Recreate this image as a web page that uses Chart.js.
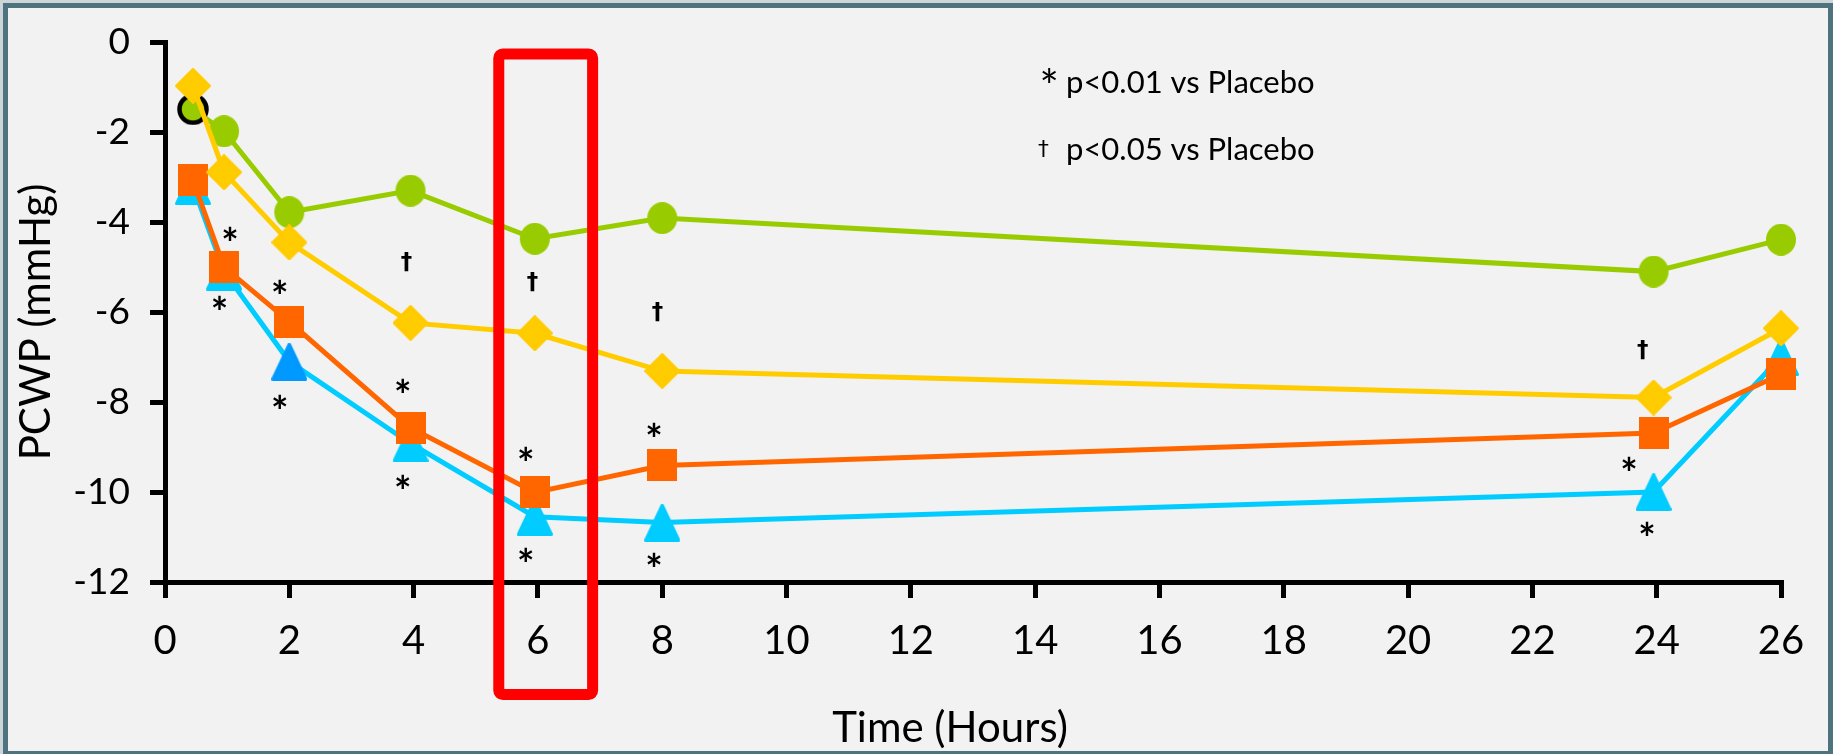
<!DOCTYPE html>
<html>
<head>
<meta charset="utf-8">
<script src="https://cdn.jsdelivr.net/npm/chart.js@4.4.1/dist/chart.umd.min.js"></script>
<style>
  html, body { margin: 0; padding: 0; width: 1833px; height: 754px; overflow: hidden; background: #CDD5D8; }
  #frame { position: absolute; left: 3px; top: 3px; width: 1820px; height: 743px; border: 5px solid #4F737E; background: #F2F2F2; }
  #chart { position: absolute; left: 0; top: 0; }
</style>
</head>
<body>
<div id="frame"></div>
<canvas id="chart" width="1833" height="754"></canvas>
<script>
// Sampling times (hours after start of infusion)
const hours = [0.45, 0.95, 2, 3.95, 5.95, 8, 23.95, 26];

// Change in PCWP (mmHg) for each treatment arm
const pcwpGreen  = [-1.49, -1.98, -3.78, -3.30, -4.37, -3.91, -5.10, -4.39];
const pcwpYellow = [-0.97, -2.89, -4.45, -6.24, -6.47, -7.31, -7.90, -6.36];
const pcwpOrange = [-3.07, -5.00, -6.21, -8.57, -10.01, -9.41, -8.69, -7.38];
const pcwpCyan   = [-3.20, -5.10, -7.10, -8.92, -10.55, -10.68, -10.00, -7.00];

// Axis ticks
const hourTicks = [0, 2, 4, 6, 8, 10, 12, 14, 16, 18, 20, 22, 24, 26];
const pcwpTicks = [0, -2, -4, -6, -8, -10, -12];

// Significance marks, placed in data units
const starHours   = [1.05, 0.88, 1.85, 1.85, 3.83, 3.83, 5.81, 5.81, 7.87, 7.87, 23.56, 23.85];
const starPcwp    = [-4.25, -5.79, -5.44, -7.98, -7.63, -9.76, -9.14, -11.38, -8.60, -11.51, -9.36, -10.81];
const daggerHours = [3.88, 5.91, 7.92, 23.77];
const daggerPcwp  = [-4.89, -5.33, -5.99, -6.84];

// Footnote key
const noteSymbols = ['*', '\u2020'];
const noteTexts   = ['p<0.01 vs Placebo', 'p<0.05 vs Placebo'];

// Highlighted window around the 6-hour reading
const windowHours = [5.37, 6.88];
const windowPcwp  = [-0.26, -14.5];

const FONT = 'Lato, "Open Sans", "Liberation Sans", sans-serif';
const SYMBOL_FONT = '"DejaVu Sans", "Liberation Sans", sans-serif';

// ---- marker images ----
function makeMarker(w, h, paint) {
  const c = document.createElement('canvas');
  c.width = w; c.height = h;
  paint(c.getContext('2d'), w, h);
  return c;
}
const circle = (fill, ring) => makeMarker(32, 32, (g, w, h) => {
  g.beginPath();
  if (ring) {
    g.ellipse(w / 2, h / 2, w / 2 - 2.5, h / 2 - 2.5, 0, 0, Math.PI * 2);
    g.fillStyle = fill; g.fill();
    g.lineWidth = 4.5; g.strokeStyle = '#000'; g.stroke();
  } else {
    g.ellipse(w / 2, h / 2, 15, 16, 0, 0, Math.PI * 2);
    g.fillStyle = fill; g.fill();
  }
});
const square = fill => makeMarker(30, 32, (g, w, h) => { g.fillStyle = fill; g.fillRect(0, 0, w, h); });
const diamond = fill => makeMarker(36, 36, (g, w, h) => {
  g.beginPath();
  g.moveTo(w / 2, 1); g.lineTo(w - 1, h / 2); g.lineTo(w / 2, h - 1); g.lineTo(1, h / 2); g.closePath();
  g.fillStyle = fill; g.strokeStyle = fill; g.lineJoin = 'round'; g.lineWidth = 2; g.fill(); g.stroke();
});
const triangle = fill => makeMarker(36, 38, (g, w, h) => {
  g.beginPath();
  g.moveTo(w / 2, 1.5); g.lineTo(w - 1.5, h - 1.5); g.lineTo(1.5, h - 1.5); g.closePath();
  g.fillStyle = fill; g.strokeStyle = fill; g.lineJoin = 'round'; g.lineWidth = 3; g.fill(); g.stroke();
});

const GREEN = '#99CC00', YELLOW = '#FFCC00', ORANGE = '#FF6600', CYAN = '#00CCFF', BLUE = '#0099FF';

const greenMarks  = hours.map((_, i) => circle(GREEN, i === 0));
const yellowMarks = diamond(YELLOW);
const orangeMarks = square(ORANGE);
const cyanMarks   = hours.map((_, i) => triangle(i === 2 ? BLUE : CYAN));

const toPoints = vals => hours.map((h, i) => ({ x: h, y: vals[i] }));

// ---- annotation layer: significance marks, key, axis captions, highlight box ----
function glyphAt(ctx, txt, cx, cy) {
  const m = ctx.measureText(txt);
  const x = cx - (m.actualBoundingBoxRight - m.actualBoundingBoxLeft) / 2;
  const y = cy + (m.actualBoundingBoxAscent - m.actualBoundingBoxDescent) / 2;
  ctx.fillText(txt, x, y);
}
function sizedFont(ctx, txt, targetHeight, weight, family) {
  ctx.font = weight + ' 100px ' + family;
  const m = ctx.measureText(txt);
  const hgt = m.actualBoundingBoxAscent + m.actualBoundingBoxDescent;
  return weight + ' ' + (100 * targetHeight / hgt).toFixed(1) + 'px ' + family;
}

const annotations = {
  id: 'annotations',
  afterDatasetsDraw(chart) {
    const { ctx, scales: { x, y } } = chart;
    ctx.save();
    ctx.fillStyle = '#000';
    ctx.textAlign = 'left';
    ctx.textBaseline = 'alphabetic';

    ctx.font = sizedFont(ctx, '*', 14, 'bold', FONT);
    starHours.forEach((h, i) => glyphAt(ctx, '*', x.getPixelForValue(h), y.getPixelForValue(starPcwp[i])));
    ctx.font = sizedFont(ctx, '\u2020', 19, 'bold', SYMBOL_FONT);
    daggerHours.forEach((h, i) => glyphAt(ctx, '\u2020', x.getPixelForValue(h), y.getPixelForValue(daggerPcwp[i])));

    // key
    const keyLeft = 1066, keyBase = [93, 160], symCenter = [[1049, 75], [1043.5, 148.5]];
    ctx.font = sizedFont(ctx, '*', 15, 'normal', FONT);
    glyphAt(ctx, noteSymbols[0], symCenter[0][0], symCenter[0][1]);
    ctx.font = sizedFont(ctx, '\u2020', 18, 'normal', SYMBOL_FONT);
    glyphAt(ctx, noteSymbols[1], symCenter[1][0], symCenter[1][1]);
    ctx.font = '31px ' + FONT;
    noteTexts.forEach((t, i) => ctx.fillText(t, keyLeft, keyBase[i]));

    // axis captions
    ctx.font = '42px ' + FONT;
    ctx.textAlign = 'center';
    ctx.fillText('Time (Hours)', 950, 742);
    ctx.translate(50, 322);
    ctx.rotate(-Math.PI / 2);
    ctx.fillText('PCWP (mmHg)', 0, 0);
    ctx.restore();
  },
  afterDraw(chart) {
    const { ctx, scales: { x, y } } = chart;
    const l = x.getPixelForValue(windowHours[0]), r = x.getPixelForValue(windowHours[1]);
    const t = y.getPixelForValue(windowPcwp[0]), b = y.getPixelForValue(windowPcwp[1]);
    ctx.save();
    ctx.strokeStyle = '#FF0000';
    ctx.lineWidth = 11;
    ctx.lineJoin = 'round';
    ctx.beginPath();
    ctx.roundRect(l, t, r - l, b - t, 4);
    ctx.stroke();
    ctx.restore();
  }
};

const axisStyle = {
  border: { color: '#000', width: 5 },
  grid: { drawOnChartArea: false, color: '#000', lineWidth: 5, tickColor: '#000', tickWidth: 5 }
};

new Chart(document.getElementById('chart'), {
  type: 'line',
  data: {
    datasets: [
      { label: 'yellow', data: toPoints(pcwpYellow), borderColor: YELLOW, backgroundColor: YELLOW, borderWidth: 5,
        pointStyle: yellowMarks, pointRadius: 18, order: 0, clip: false },
      { label: 'orange', data: toPoints(pcwpOrange), borderColor: ORANGE, backgroundColor: ORANGE, borderWidth: 5,
        pointStyle: orangeMarks, pointRadius: 16, order: 1, clip: false },
      { label: 'green', data: toPoints(pcwpGreen), borderColor: GREEN, backgroundColor: GREEN, borderWidth: 5,
        pointStyle: greenMarks, pointRadius: 16, order: 2, clip: false },
      { label: 'cyan', data: toPoints(pcwpCyan), borderColor: CYAN, backgroundColor: CYAN, borderWidth: 5,
        pointStyle: cyanMarks, pointRadius: 18, order: 3, clip: false }
    ]
  },
  options: {
    responsive: false,
    animation: false,
    devicePixelRatio: 1,
    layout: { padding: { left: 0, top: 35, right: 52, bottom: 0 } },
    plugins: { legend: { display: false }, tooltip: { enabled: false } },
    scales: {
      x: {
        type: 'linear', min: 0, max: 26,
        afterBuildTicks: s => { s.ticks = hourTicks.map(v => ({ value: v })); },
        afterFit: s => { s.height = 172; },
        border: axisStyle.border,
        grid: { ...axisStyle.grid, tickLength: 16 },
        ticks: { color: '#000', font: { family: FONT, size: 40 }, padding: 19, maxRotation: 0, autoSkip: false }
      },
      y: {
        type: 'linear', min: -12, max: 0,
        afterBuildTicks: s => { s.ticks = pcwpTicks.map(v => ({ value: v })); },
        afterFit: s => { s.width = 165; },
        border: axisStyle.border,
        grid: { ...axisStyle.grid, tickLength: 15 },
        ticks: { color: '#000', font: { family: FONT, size: 37 }, padding: 20, callback: v => String(v) }
      }
    }
  },
  plugins: [annotations]
});
</script>
</body>
</html>
